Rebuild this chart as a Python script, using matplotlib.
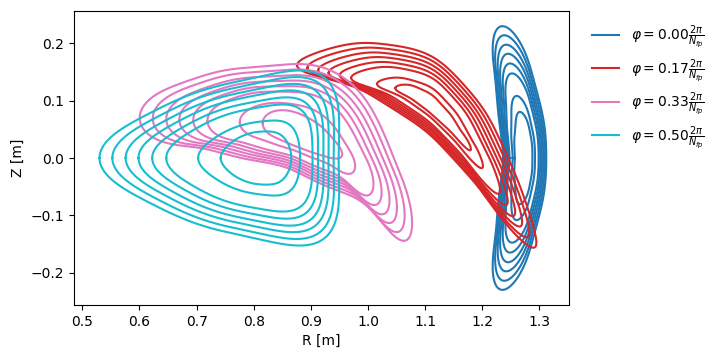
import numpy as np
import matplotlib
matplotlib.use("Agg")
import matplotlib.pyplot as plt

# toroidal angles (in units of 2pi/Nfp) and colours of the four cuts
phi_values = [0.00, 0.17, 0.33, 0.50]
colors = ["tab:blue", "tab:red", "tab:pink", "tab:cyan"]

# flux-surface levels, 1 = boundary, 0 = innermost surface drawn
levels = [1.0, 0.894, 0.784, 0.678, 0.565, 0.449, 0.186, 0.0]

# Fourier coefficients (m = 0..8) of R(theta), Z(theta) for the boundary and the innermost surface
# phi = 0.00 (stellarator symmetric: only R cos, Z sin)
blue_rc_out = [1.2577, -0.0452, 0.0168, 0.0085, -0.0013, -0.0029, 0.0012, 0.0018, -0.0001]
blue_zs_out = [0.0, 0.1988, 0.0012, -0.0204, -0.0015, 0.0069, 0.0011, -0.0032, -0.0009]
blue_rc_in = [1.2701, -0.0177, 0.0025, 0.0025, -0.0005, -0.0007, 0.0004, 0.0005, -0.0001]
blue_zs_in = [0.0, 0.0697, 0.0003, -0.0071, -0.0003, 0.0024, 0.0003, -0.0011, -0.0002]

# phi = 0.17
red_rc_out = [1.1162, -0.1801, -0.0245, -0.0188, -0.0040, -0.0057, -0.0029, -0.0023, -0.0021]
red_rs_out = [0.0, 0.0048, 0.0001, -0.0051, 0.0022, -0.0023, 0.0017, -0.0013, 0.0007]
red_zc_out = [0.0559, 0.1384, -0.0321, 0.0034, -0.0035, -0.0001, -0.0003, -0.0013, 0.0007]
red_zs_out = [0.0, 0.0718, -0.0096, 0.0096, -0.0059, 0.0045, -0.0022, 0.0022, -0.0011]
red_rc_in = [1.1198, -0.0562, -0.0045, -0.0066, -0.0009, -0.0022, -0.0003, -0.0010, -0.0003]
red_rs_in = [0.0, 0.0023, 0.0010, -0.0009, 0.0003, -0.0005, 0.0003, -0.0003, 0.0002]
red_zc_in = [0.0775, 0.0478, -0.0057, 0.0031, -0.0013, 0.0007, -0.0003, 0.0001, -0.0002]
red_zs_in = [0.0, 0.0160, -0.0001, 0.0028, -0.0008, 0.0013, -0.0005, 0.0008, -0.0004]

# phi = 0.33
pink_rc_out = [0.8676, -0.2167, -0.0226, -0.0116, -0.0066, -0.0042, -0.0022, -0.0015, -0.0016]
pink_rs_out = [0.0, -0.0082, 0.0017, -0.0054, 0.0033, -0.0021, 0.0007, -0.0006, 0.0004]
pink_zc_out = [0.0321, 0.0675, -0.0349, 0.0043, 0.0011, -0.0049, 0.0030, -0.0025, 0.0014]
pink_zs_out = [0.0, 0.1080, -0.0157, 0.0158, -0.0018, 0.0057, -0.0005, 0.0007, 0.0022]
pink_rc_in = [0.8860, -0.0624, -0.0014, -0.0050, -0.0001, -0.0010, -0.0001, -0.0001, -0.0002]
pink_rs_in = [0.0, 0.0001, 0.0015, -0.0018, 0.0010, -0.0009, 0.0005, -0.0005, 0.0003]
pink_zc_in = [0.0412, 0.0230, -0.0038, 0.0003, -0.0003, -0.0003, 0.0003, -0.0002, 0.0002]
pink_zs_in = [0.0, 0.0320, 0.0009, 0.0040, -0.0002, 0.0011, -0.0001, 0.0004, -0.0001]

# phi = 0.50 (stellarator symmetric)
cyan_rc_out = [0.7702, -0.2035, -0.0167, -0.0045, -0.0108, 0.0004, -0.0033, -0.0017, -0.0001]
cyan_zs_out = [0.0, 0.1480, -0.0227, 0.0107, 0.0029, -0.0027, 0.0032, -0.0003, -0.0000]
cyan_rc_in = [0.8076, -0.0595, -0.0019, -0.0017, -0.0013, -0.0003, -0.0003, -0.0003, -0.0001]
cyan_zs_in = [0.0, 0.0478, -0.0030, 0.0018, 0.0005, -0.0003, 0.0003, -0.0000, -0.0001]

zero = [0.0] * 9
cuts = [
    ((blue_rc_out, zero, zero, blue_zs_out), (blue_rc_in, zero, zero, blue_zs_in)),
    ((red_rc_out, red_rs_out, red_zc_out, red_zs_out), (red_rc_in, red_rs_in, red_zc_in, red_zs_in)),
    ((pink_rc_out, pink_rs_out, pink_zc_out, pink_zs_out), (pink_rc_in, pink_rs_in, pink_zc_in, pink_zs_in)),
    ((cyan_rc_out, zero, zero, cyan_zs_out), (cyan_rc_in, zero, zero, cyan_zs_in)),
]


def surface(coef, theta):
    rc, rs, zc, zs = [np.asarray(c)[:, None] for c in coef]
    m = np.arange(len(rc))[:, None]
    R = (rc * np.cos(m * theta) + rs * np.sin(m * theta)).sum(0)
    Z = (zc * np.cos(m * theta) + zs * np.sin(m * theta)).sum(0)
    return R, Z


theta = np.linspace(0, 2 * np.pi, 400)

fig = plt.figure(figsize=(7.19, 3.58), dpi=100)
ax = fig.add_axes([0.1025, 0.148, 0.6893, 0.8212])

for (outer, inner), phi, col in zip(cuts, phi_values, colors):
    for k, lv in enumerate(levels):
        # blend boundary and innermost shape for this surface
        coef = [lv * np.array(o) + (1 - lv) * np.array(i) for o, i in zip(outer, inner)]
        R, Z = surface(coef, theta)
        lab = r"$\varphi = %.2f\frac{2\pi}{N_{fp}}$" % phi if k == 0 else None
        ax.plot(R, Z, color=col, label=lab)

ax.set_xlim(0.4849, 1.3524)
ax.set_ylim(-0.256, 0.256)
ax.set_xlabel("R [m]")
ax.set_ylabel("Z [m]")
ax.legend(loc="upper left", bbox_to_anchor=(1.02, 1.0), frameon=False)

fig.savefig("out.png")
